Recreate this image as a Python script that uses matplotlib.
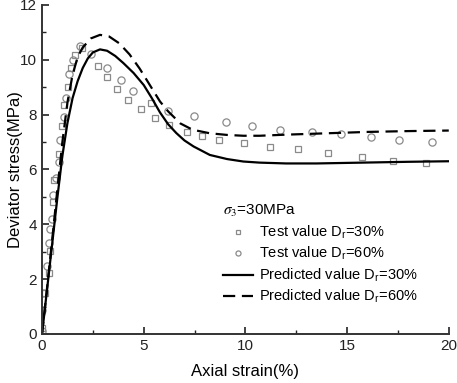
import numpy as np
import matplotlib
matplotlib.use('Agg')
import matplotlib.pyplot as plt
from matplotlib.ticker import MultipleLocator

plt.rcParams['font.family'] = ['Liberation Sans', 'DejaVu Sans']
plt.rcParams['mathtext.fontset'] = 'stix'

# test values, Dr = 30% (squares)
test30_x = [0.0, 0.15, 0.34, 0.39, 0.56, 0.60, 0.84, 1.00, 1.10, 1.26, 1.43, 1.62, 1.95,
            2.77, 3.19, 3.68, 4.25, 4.86, 5.34, 5.55, 6.26, 7.12, 7.89, 8.69, 9.95,
            11.22, 12.58, 14.04, 15.71, 17.25, 18.90]
test30_y = [0.2, 1.49, 2.21, 3.04, 4.83, 5.6, 6.57, 7.59, 8.36, 9.0, 9.71, 10.17, 10.42,
            9.77, 9.37, 8.93, 8.54, 8.21, 8.44, 7.89, 7.62, 7.36, 7.23, 7.08, 6.95,
            6.81, 6.74, 6.59, 6.46, 6.32, 6.23]

# test values, Dr = 60% (circles)
test60_x = [0.0, 0.02, 0.03, 0.23, 0.36, 0.39, 0.49, 0.56, 0.67, 0.82, 0.90, 1.07, 1.18,
            1.34, 1.50, 1.88, 2.41, 3.18, 3.87, 4.46, 6.18, 7.48, 9.07, 10.32, 11.68,
            13.25, 14.71, 16.17, 17.53, 19.18]
test60_y = [0.1, 0.88, 1.51, 2.48, 3.33, 3.82, 4.19, 5.07, 5.68, 6.29, 7.08, 7.91, 8.6,
            9.47, 10.0, 10.52, 10.2, 9.70, 9.25, 8.86, 8.12, 7.94, 7.73, 7.59, 7.45,
            7.37, 7.29, 7.17, 7.08, 7.0]

# predicted curves
pred30_x = [0, 0.25, 0.5, 0.75, 1.0, 1.25, 1.5, 1.75, 2.0, 2.25, 2.5, 2.85, 3.2, 3.6, 4.0,
            4.5, 5.0, 5.4, 5.8, 6.2, 6.6, 7.0, 7.45, 8.25, 9.1, 9.9, 10.7, 12.0, 13.5,
            15.0, 16.5, 18.0, 20.0]
pred30_y = [0, 1.65, 3.3, 4.95, 6.5, 7.7, 8.6, 9.22, 9.7, 10.05, 10.27, 10.38, 10.33, 10.14,
            9.88, 9.52, 9.08, 8.6, 8.08, 7.65, 7.33, 7.06, 6.84, 6.53, 6.38, 6.29, 6.25,
            6.22, 6.22, 6.24, 6.26, 6.28, 6.30]

pred60_x = [0, 0.25, 0.5, 0.75, 1.0, 1.25, 1.5, 1.75, 2.0, 2.4, 2.85, 3.3, 3.8, 4.3, 4.8,
            5.3, 5.8, 6.2, 6.8, 7.4, 8.25, 9.1, 9.9, 10.7, 12.0, 14.0, 16.0, 18.0, 20.0]
pred60_y = [0, 1.7, 3.45, 5.25, 7.0, 8.45, 9.45, 10.1, 10.45, 10.78, 10.91, 10.85, 10.6,
            10.2, 9.68, 9.08, 8.48, 8.12, 7.68, 7.45, 7.32, 7.26, 7.23, 7.23, 7.27, 7.32,
            7.37, 7.40, 7.42]

fig = plt.figure(figsize=(4.57, 3.83), dpi=100)
ax = fig.add_axes([0.092, 0.128, 0.89, 0.859])

ax.plot(test30_x, test30_y, 's', mfc='none', mec='#8a8a8a', ms=4.8, mew=0.9,
        label='Test value D$_\\mathregular{r}$=30%')
ax.plot(test60_x, test60_y, 'o', mfc='none', mec='#8a8a8a', ms=5.2, mew=0.9,
        label='Test value D$_\\mathregular{r}$=60%')
ax.plot(pred30_x, pred30_y, '-', color='black', lw=1.6,
        label='Predicted value D$_\\mathregular{r}$=30%')
ax.plot(pred60_x, pred60_y, '--', color='black', lw=1.6, dashes=(5.5, 3),
        label='Predicted value D$_\\mathregular{r}$=60%')

ax.set_xlim(0, 20)
ax.set_ylim(0, 12)
ax.xaxis.set_major_locator(MultipleLocator(5))
ax.xaxis.set_minor_locator(MultipleLocator(2.5))
ax.yaxis.set_major_locator(MultipleLocator(2))
ax.yaxis.set_minor_locator(MultipleLocator(1))
ax.tick_params(which='both', direction='in', labelsize=11, colors='#222222')
ax.tick_params(which='major', length=5, width=1.2)
ax.tick_params(which='minor', length=3, width=1.0)
for side in ['top', 'right']:
    ax.spines[side].set_visible(False)
for side in ['left', 'bottom']:
    ax.spines[side].set_linewidth(1.4)
    ax.spines[side].set_color('#333333')

ax.set_xlabel('Axial strain(%)', fontsize=12, labelpad=8)
ax.set_ylabel('Deviator stress(MPa)', fontsize=12)
ax.yaxis.set_label_coords(-0.047, 0.5)

leg = ax.legend(loc='upper left', bbox_to_anchor=(0.43, 0.415), frameon=False,
                fontsize=10.5, title='$\\sigma_3$=30MPa', title_fontsize=11,
                alignment='left', handlelength=2.1, handletextpad=0.35,
                labelspacing=0.3, markerscale=0.7, borderaxespad=0)

fig.savefig('out.png', dpi=100)
